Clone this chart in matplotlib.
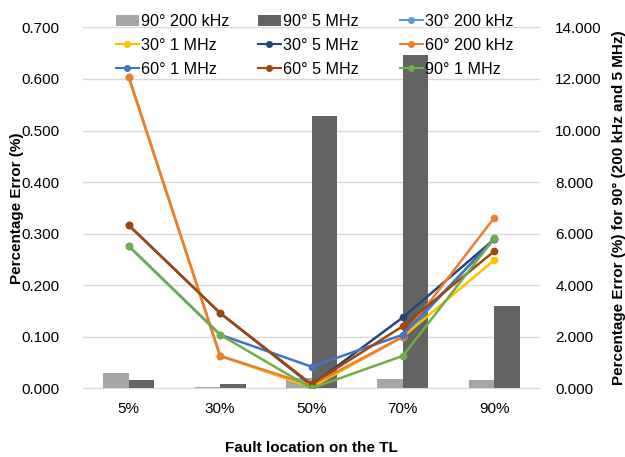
import matplotlib.pyplot as plt
import numpy as np

plt.rcParams['font.family'] = ['Liberation Sans', 'DejaVu Sans']

locations = ['5%', '30%', '50%', '70%', '90%']

# bars, right axis (90 deg)
bar_90_200k = [0.60, 0.05, 0.39, 0.35, 0.32]
bar_90_5M = [0.32, 0.155, 10.56, 12.92, 3.20]

# lines, left axis
l_30_200k = [0.604, 0.063, 0.003, 0.100, 0.291]
l_30_1M = [0.604, 0.063, 0.002, 0.100, 0.249]
l_30_5M = [0.3165, 0.146, 0.006, 0.1376, 0.289]
l_60_200k = [0.604, 0.063, 0.006, 0.100, 0.331]
l_60_1M = [0.276, 0.104, 0.042, 0.104, 0.289]
l_60_5M = [0.3165, 0.146, 0.008, 0.1207, 0.266]
l_90_1M = [0.276, 0.104, 0.000, 0.063, 0.291]

fig = plt.figure(figsize=(6.25, 4.57), dpi=100)
ax_b = fig.add_axes([0.1328, 0.1503, 0.7312, 0.7897])
ax = ax_b.twinx()
ax.yaxis.tick_left()
ax.yaxis.set_label_position('left')
ax_b.yaxis.tick_right()
ax_b.yaxis.set_label_position('right')
ax.set_zorder(ax_b.get_zorder() + 1)
ax.patch.set_visible(False)

x = np.arange(len(locations))
w = 0.28
b1 = ax_b.bar(x - w / 2, bar_90_200k, w, color='#A5A5A5', label='90° 200 kHz')
b2 = ax_b.bar(x + w / 2, bar_90_5M, w, color='#636363', label='90° 5 MHz')

series = [
    (l_30_200k, '#5B9BD5', '30° 200 kHz'),
    (l_30_1M, '#FFC000', '30° 1 MHz'),
    (l_30_5M, '#264478', '30° 5 MHz'),
    (l_60_200k, '#ED7D31', '60° 200 kHz'),
    (l_60_1M, '#4472C4', '60° 1 MHz'),
    (l_60_5M, '#9E480E', '60° 5 MHz'),
    (l_90_1M, '#70AD47', '90° 1 MHz'),
]
handles = [b1, b2]
for vals, c, lab in series:
    h, = ax.plot(x, vals, color=c, lw=1.8, marker='o', ms=4.5, label=lab)
    handles.append(h)

ax.set_xlim(-0.5, 4.5)
ax.set_ylim(0, 0.7)
ax_b.set_ylim(0, 14)
ax.set_yticks(np.arange(0, 0.71, 0.1))
ax.set_yticklabels([f'{v:.3f}' for v in np.arange(0, 0.71, 0.1)])
ax_b.set_yticks(np.arange(0, 14.1, 2))
ax_b.set_yticklabels([f'{v:.3f}' for v in np.arange(0, 14.1, 2)])
ax_b.set_xticks(x)
ax_b.set_xticklabels(locations)
ax_b.grid(axis='y', color='#D9D9D9', lw=1)
ax_b.set_axisbelow(True)

for a in (ax, ax_b):
    for s in a.spines.values():
        s.set_visible(False)
    a.tick_params(length=0, labelsize=11, colors='#000000')
ax_b.spines['bottom'].set_visible(True)
ax_b.spines['bottom'].set_color('#D9D9D9')
ax_b.tick_params(axis='x', pad=10)
ax.tick_params(axis='y', pad=17)
ax_b.tick_params(axis='y', pad=11)

ax.set_ylabel('Percentage Error (%)', fontsize=11, fontweight='bold', labelpad=-2)
ax_b.set_ylabel('Percentage Error (%) for 90° (200 kHz and 5 MHz)', fontsize=11,
                fontweight='bold', rotation=90, labelpad=7)
ax_b.set_xlabel('Fault location on the TL', fontsize=11, fontweight='bold', labelpad=18)

# legend: three columns, each its own legend so columns sit where Excel puts them
cols = [[0, 3, 6], [1, 4, 7], [2, 5, 8]]
col_x = [116, 258, 400]
for idx, px in zip(cols, col_x):
    leg = fig.legend([handles[i] for i in idx], [handles[i].get_label() for i in idx],
                     loc='upper left', bbox_to_anchor=(px / 625, 1 - 14 / 457),
                     frameon=False, fontsize=11.6, handlelength=1.4, handletextpad=0.15,
                     labelspacing=0.55, borderpad=0, borderaxespad=0)
    for lh in leg.get_lines():
        lh.set_linewidth(1.5)
        lh.set_markersize(4)

fig.savefig('out.png', dpi=100)
